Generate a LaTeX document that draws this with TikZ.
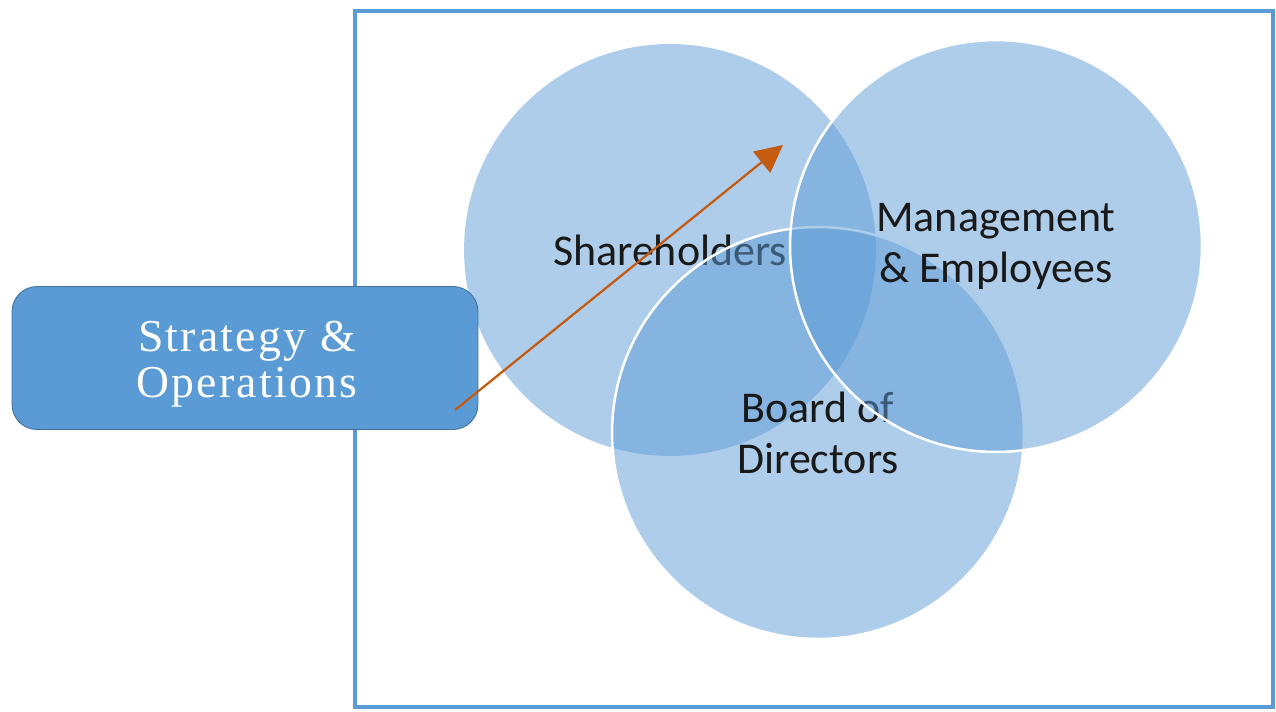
\documentclass[tikz,border=0pt]{standalone}
\usepackage{fontspec}
\setmainfont{Carlito}
\newfontfamily\boxfont[LetterSpace=5]{Liberation Serif}
\usetikzlibrary{arrows.meta}
\definecolor{accent}{HTML}{5B9BD5}
\definecolor{accentdark}{HTML}{41719C}
\definecolor{arrowcol}{HTML}{C55A11}

\begin{document}
\begin{tikzpicture}[
    x=0.02cm, y=-0.02cm,
    group/.style={circle, minimum size=8.24cm, inner sep=0pt, fill=accent, fill opacity=0.5, text opacity=1, align=center, font=\fontsize{25}{29}\selectfont, text=black!90},
    ring/.style={draw=white, line width=0.05cm},
    panel/.style={rounded corners=0.5cm, fill=accent, draw=accentdark, line width=0.5pt, minimum width=9.32cm, minimum height=2.86cm, align=center, text=white, font=\boxfont\fontsize{26}{26}\selectfont},
    link/.style={-{Triangle[length=0.55cm, width=0.54cm]}, draw=arrowcol, line width=0.045cm}
]
\useasboundingbox (0,0) rectangle (1276,711);

% outer frame
\draw[accent, line width=0.08cm] (355,11) rectangle (1273,707);

% the three overlapping circles
\node[group] (share) at (670,250) {Shareholders};
\node[group, ring] (board) at (818,433) {Board of\\Directors};
\node[group, ring] (mgmt) at (996,246) {Management\\\& Employees};

% box on the left, text sits a little low
\node[panel] (strategy) at (245,358) {};
\node[text=white, align=center, font=\boxfont\fontsize{26}{26}\selectfont] (strategytext) at (247,364) {Strategy \&\\Operations};

% arrow out of the box
\coordinate (foot) at (455,410);
\coordinate (tip) at (783,145);
\draw[link] (foot) -- (tip);
\end{tikzpicture}
\end{document}
